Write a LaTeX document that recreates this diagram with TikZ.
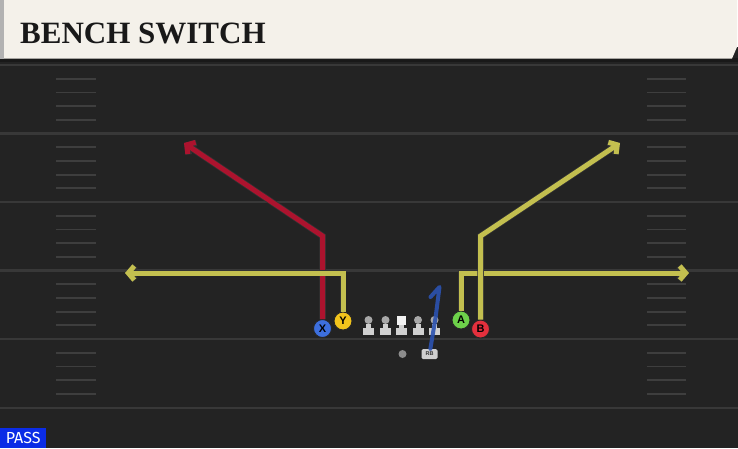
\documentclass[tikz,border=0pt]{standalone}
\usepackage{fontspec}
\newfontfamily\titlefont{Liberation Serif}
\newfontfamily\labelfont{Liberation Sans}
\newfontfamily\tagfont{Fira Sans}
\usetikzlibrary{arrows.meta}

\definecolor{field}{HTML}{232323}
\definecolor{yardline}{HTML}{383838}
\definecolor{hashmark}{HTML}{3E3E3E}
\definecolor{titlebg}{HTML}{F4F1EA}
\definecolor{routered}{HTML}{AC132E}
\definecolor{routeyellow}{HTML}{C3BF4F}
\definecolor{routeblue}{HTML}{2B52B0}
\definecolor{xblue}{HTML}{3D6FDD}
\definecolor{yyellow}{HTML}{F2C41C}
\definecolor{agreen}{HTML}{6DD14A}
\definecolor{bred}{HTML}{E4303D}
\definecolor{passblue}{HTML}{0B2CE6}
\definecolor{linehead}{HTML}{A8A8A8}
\definecolor{linebody}{HTML}{D0D0D0}

\tikzset{
  player/.style={circle, draw=black!85, line width=0.9pt, inner sep=0pt,
    minimum size=18pt, font=\labelfont\bfseries\fontsize{11}{11}\selectfont},
  route/.style={line width=5pt, line join=miter,
    -{Straight Barb[length=6pt,width=14pt]},
    preaction={draw=black!80, line width=6.5pt}},
  rbroute/.style={routeblue, opacity=0.9, line width=4pt, line join=round, line cap=round},
  lineman/.style={circle, fill=linehead, inner sep=0pt, minimum size=8pt},
  snapper/.style={rectangle, fill=white!95!black, inner sep=0pt, minimum size=9pt},
  yard/.style={yardline, line width=2.2pt},
  hash/.style={hashmark, line width=1.8pt}
}

\begin{document}
\begin{tikzpicture}[x=1pt,y=-1pt]
        \useasboundingbox (0,0) rectangle (738,448);
        % field and title bar
        \fill[field] (0,47) rectangle (738,448);
        \fill[black!90] (0,58) rectangle (738,62);
        \fill[titlebg] (0,0) -- (737,0) -- (737,47) -- (732,58.5) -- (0,58.5) -- cycle;
        \fill[black!30] (0,0) rectangle (4,58.5);
        \node[anchor=base west, inner sep=0pt, text=black!90,
          font=\titlefont\bfseries\fontsize{31}{31}\selectfont] at (20,43) (title) {BENCH SWITCH};

        \foreach \yl in {65,133.5,202,270.5,339,408}
          \draw[yard] (0,\yl) -- (738,\yl);
        \foreach \yl in {65,133.5,202,270.5,339}
          \foreach \k in {1,...,4}
            \draw[hash] (56,\yl+13.7*\k) -- (96,\yl+13.7*\k)
                        (647,\yl+13.7*\k) -- (686,\yl+13.7*\k);

        \node[fill=passblue, text=white, anchor=south west, minimum width=46pt,
          minimum height=20pt, inner sep=0pt, font=\tagfont\fontsize{16}{16}\selectfont]
          at (0,448) (pass) {PASS};

        % players
        \node[player, fill=xblue] at (322.5,328.5) (X) {X};
        \node[player, fill=yyellow] at (343,321) (Y) {Y};
        \node[player, fill=agreen] at (461,320) (A) {A};
        \node[player, fill=bred] at (480.5,329) (B) {B};

        \node[lineman] at (368.5,320) (LT) {};
        \node[lineman] at (385.5,320) (LG) {};
        \node[snapper] at (401.5,320) (C) {};
        \node[lineman] at (418,320) (RG) {};
        \node[lineman] at (434.5,320) (RT) {};
        \foreach \n in {LT,LG,C,RG,RT} {
          \fill[linebody] ([xshift=-2.5pt]\n.south) rectangle ([shift={(2.5,9)}]\n.center);
          \fill[linebody] ([shift={(-5.5,8)}]\n.center) rectangle ([shift={(5.5,14.5)}]\n.center);
        }

        \node[circle, fill=black!45, inner sep=0pt, minimum size=8pt] at (402.5,354) (QB) {};
        \node[rectangle, rounded corners=1.5pt, fill=linebody, inner sep=0pt,
          minimum width=16pt, minimum height=10pt, text=black!80,
          font=\labelfont\bfseries\fontsize{5.5}{5.5}\selectfont] at (429.5,354) (RB) {RB};

        % route breaks and ends
        \coordinate (Xbreak) at (322.5,236);
        \coordinate (Xend) at (184,143);
        \coordinate (Ybreak) at (343,273);
        \coordinate (Yend) at (125,273);
        \coordinate (Abreak) at (461,273);
        \coordinate (Aend) at (689,273);
        \coordinate (Bbreak) at (480.5,236);
        \coordinate (Bend) at (620,143);
        \coordinate (RBmid) at (435.5,318);
        \coordinate (RBtop) at (439.5,287);
        \coordinate (RBflag) at (430.5,297);

        \draw[route, routered] (X) -- (Xbreak) -- (Xend);
        \draw[route, routeyellow] (Y) -- (Ybreak) -- (Yend);
        \draw[route, routeyellow] (A) -- (Abreak) -- (Aend);
        \draw[route, routeyellow] (B) -- (Bbreak) -- (Bend);
        \draw[rbroute] (RB) -- (RBmid) -- (RBtop) -- (RBflag);

    \end{tikzpicture}
\end{document}
